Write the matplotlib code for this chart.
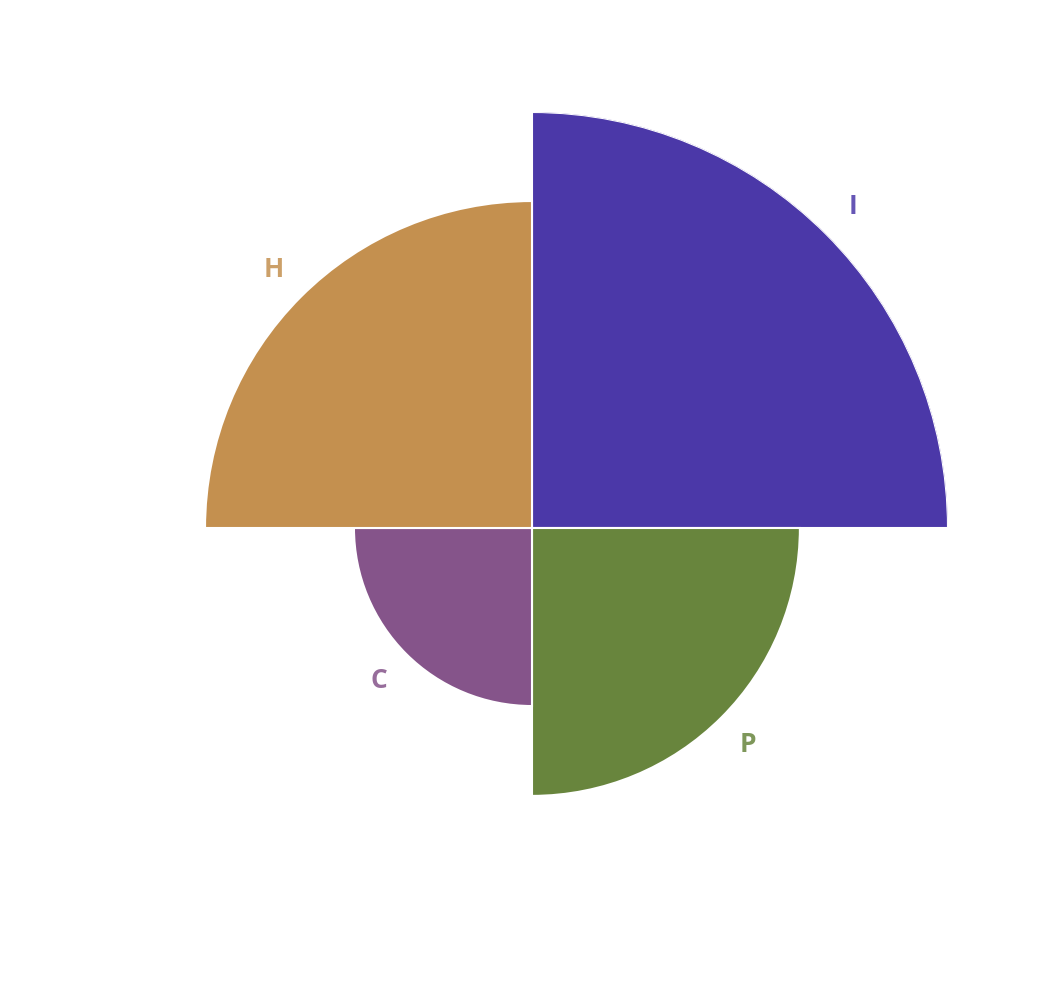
import numpy as np
import matplotlib
matplotlib.use("Agg")
import matplotlib.pyplot as plt

categories = ["I", "P", "C", "H"]
values = [100.0, 64.4, 42.8, 78.6]
colors = ["#4B38A8", "#68853D", "#85548A", "#C4904F"]

W, H = 1062, 1008
fig = plt.figure(figsize=(W / 100, H / 100), dpi=100)
cx, cy, R = 532, 528, 416
ax = fig.add_axes([(cx - R) / W, 1 - (cy + R) / H, 2 * R / W, 2 * R / H], projection="polar")
ax.set_theta_zero_location("N")
ax.set_theta_direction(-1)

n = len(categories)
theta = np.deg2rad(np.arange(n) * 360 / n + 180 / n)
width = np.deg2rad(360 / n)
ax.bar(theta, values, width=width, color=colors, edgecolor="white", linewidth=1.5, align="center")
rmax = max(values)
ax.set_ylim(0, rmax)
off = 38 / R * rmax
for t, v, c, lab in zip(theta, values, colors, categories):
    ax.text(t, v + off, lab, color=c, fontsize=19, fontweight="bold", family="Open Sans",
            ha="center", va="center", alpha=0.85)
ax.set_axis_off()
fig.savefig("out.png", dpi=100)
